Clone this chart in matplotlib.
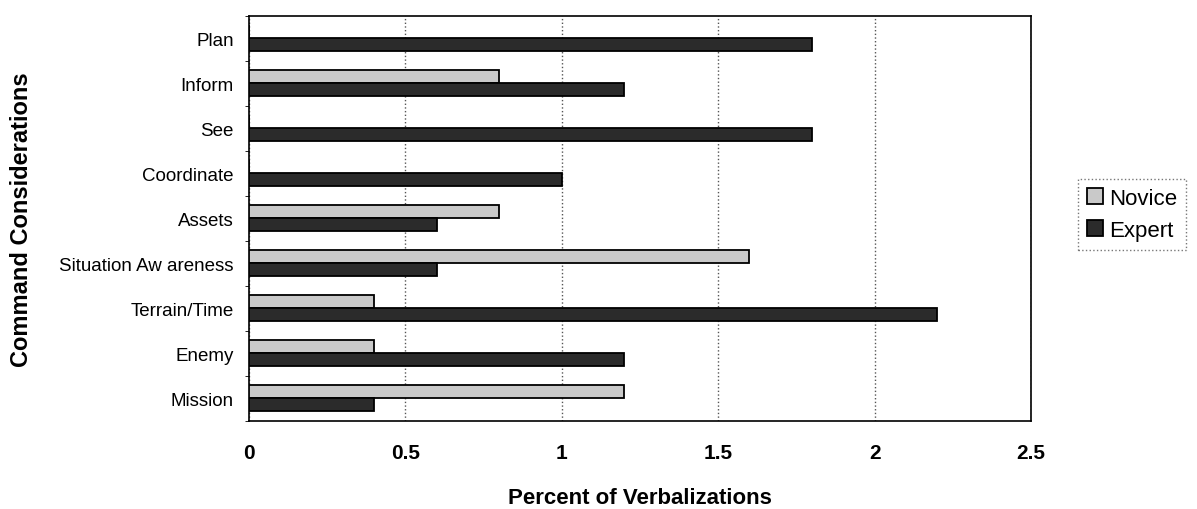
import matplotlib
matplotlib.use("Agg")
import matplotlib.pyplot as plt
import numpy as np

plt.rcParams['font.family'] = ['Liberation Sans', 'DejaVu Sans']

# categories, bottom to top
categories = ["Mission", "Enemy", "Terrain/Time", "Situation Aw areness", "Assets",
              "Coordinate", "See", "Inform", "Plan"]
novice = [1.2, 0.4, 0.4, 1.6, 0.8, 0.0, 0.0, 0.8, 0.0]
expert = [0.4, 1.2, 2.2, 0.6, 0.6, 1.0, 1.8, 1.2, 1.8]
xticks = [0, 0.5, 1, 1.5, 2, 2.5]

fig = plt.figure(figsize=(11.97, 5.10), dpi=100)
ax = fig.add_axes([249 / 1197, 88 / 510, 782 / 1197, 405 / 510])

y = np.arange(len(categories))
h = 0.29
ax.barh(y + h / 2 + 0.01, novice, height=h, color="#c9c9c9", edgecolor="black", linewidth=1.3,
        label="Novice", zorder=3)
ax.barh(y - h / 2 + 0.01, expert, height=h, color="#2b2b2b", edgecolor="black", linewidth=1.3,
        label="Expert", zorder=3)

ax.set_xlim(0, 2.5)
ax.set_ylim(-0.5, 8.5)
ax.set_xticks(xticks)
ax.set_xticklabels(["0", "0.5", "1", "1.5", "2", "2.5"], fontsize=15, fontweight="bold")
ax.set_yticks(y)
ax.set_yticklabels(categories, fontsize=13.5)
ax.set_yticks(np.arange(-0.5, 9, 1), minor=True)
ax.tick_params(axis="y", which="major", length=0, pad=11)
ax.tick_params(axis="y", which="minor", length=3)
ax.tick_params(axis="x", length=0, pad=16)
ax.xaxis.grid(True, linestyle=":", color="#555555", linewidth=1)
ax.set_axisbelow(True)
for s in ax.spines.values():
    s.set_linewidth(1.2)

ax.set_xlabel("Percent of Verbalizations", fontsize=16, fontweight="bold", labelpad=18)
ax.set_ylabel("Command Considerations", fontsize=17, fontweight="bold")
ax.yaxis.set_label_coords(-0.276, 0.5)

leg = ax.legend(loc="center left", bbox_to_anchor=(1.046, 0.51), fontsize=16, frameon=True,
                fancybox=False, edgecolor="#555555", handlelength=0.7, handleheight=0.7,
                handletextpad=0.3, borderpad=0.4, labelspacing=0.5)
leg.get_frame().set_linestyle(":")

fig.savefig("out.png", dpi=100)
